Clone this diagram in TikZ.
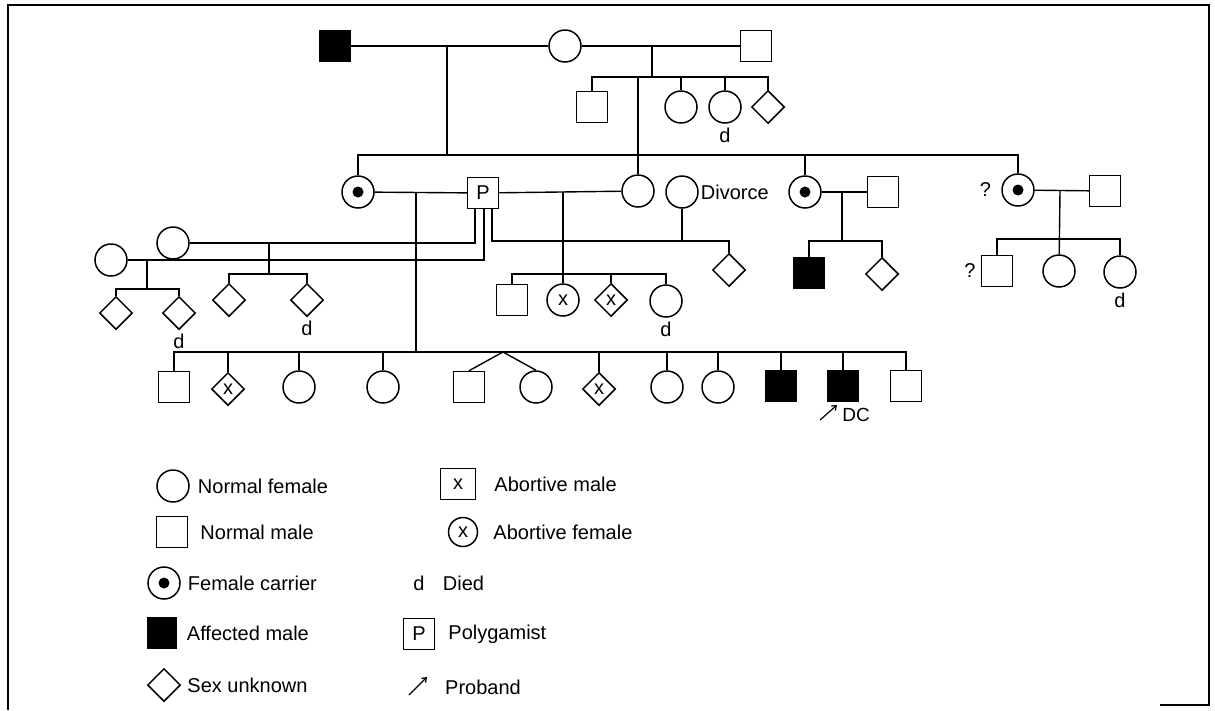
\documentclass[tikz,border=0pt]{standalone}
\usepackage{fontspec}
\setmainfont{Liberation Sans}
\usetikzlibrary{positioning,shapes.geometric,arrows.meta}

\begin{document}
\begin{tikzpicture}[
  x=1pt, y=-1pt,
  font=\fontsize{20}{22}\selectfont,
  every node/.style={inner sep=0pt},
  male/.style={draw, line width=1.5pt, minimum size=31pt},
  female/.style={draw, circle, line width=1.5pt, minimum size=32pt},
  unknown/.style={draw, diamond, aspect=1, line width=1.5pt, minimum size=33pt},
  affected/.style={male, fill=black},
  carrier/.style={female, path picture={\fill (path picture bounding box.center) circle (5.5pt);}},
  link/.style={line width=1.4pt},
  pointer/.style={line width=1.2pt, -{Straight Barb[length=4pt, width=6pt]}}
]
\useasboundingbox (0,0) rectangle (1215,710);
% frame
\draw[line width=1.6pt] (8,710) -- (8,5) -- (1209,5) -- (1209,705) -- (1160,705);

% first generation
\node[affected] (gf) at (335,46) {};
\node[female] (gm) at (565,46) {};
\node[male] (gm2) at (756,46) {};
\coordinate (m1) at (447,46);
\coordinate (m2) at (652,46);
\coordinate (sib1) at (652,77);
\coordinate (sib2) at (447,155);

\node[male] (u1) at (592,107) {};
\node[female] (u2) at (681,107) {};
\node[female] (u3) at (725,107) {};
\node[below=4pt of u3] {d};
\node[unknown] (u4) at (768,107) {};

\draw[link] (gf) -- (gm);
\draw[link] (gm) -- (gm2);
\draw[link] (m1) -- (sib2);
\draw[link] (m2) -- (sib1);
\draw[link] (u1.north) |- (sib1) -| (u4.north);
\draw[link] (u2.north) -- (u2.north |- sib1);
\draw[link] (u3.north) -- (u3.north |- sib1);

% second generation
\node[carrier] (c1) at (358,192) {};
\node[male] (p) at (483,193) {P};
\node[female] (w3) at (638,191) {};
\node[female] (dv) at (682,192) {};
\node[right=2pt of dv] {Divorce};
\node[carrier] (c2) at (805,192) {};
\node[male] (h2) at (883,192) {};
\node[carrier] (c3) at (1018,190) {};
\node[left=10pt of c3] {?};
\node[male] (h3) at (1105,191) {};
\node[female] (w1) at (173,243) {};
\node[female] (w2) at (111,260) {};

\draw[link] (c1.north) |- (sib2) -| (c3.north);
\draw[link] (c2.north) -- (c2.north |- sib2);
\draw[link] (w3.north) -- (w3.north |- sib1);

% matings of P
\coordinate (m3) at (416,192);
\coordinate (sib3) at (416,352);
\coordinate (m4) at (563,192);
\coordinate (sib4) at (563,274);
\coordinate (sib5) at (682,241);
\coordinate (m5) at (269,242);
\coordinate (sib6) at (269,274);
\coordinate (m6) at (147,259);
\coordinate (sib7) at (147,289);

\draw[link] (c1) -- (p);
\draw[link] (p) -- (w3);
\draw[link] ([xshift=-8pt]p.south) |- (w1);
\draw[link] ([xshift=1pt]p.south) |- (w2);
\draw[link] (m3) -- (sib3);

% third generation
\node[unknown] (k1) at (116,313) {};
\node[unknown] (k2) at (179,313) {};
\node[below=4pt of k2] {d};
\node[unknown] (k3) at (229,300) {};
\node[unknown] (k4) at (307,300) {};
\node[below=4pt of k4] {d};
\node[male] (k5) at (512,300) {};
\node[female] (k6) at (563,300) {x};
\node[unknown] (k7) at (611,300) {x};
\node[female] (k8) at (666,301) {};
\node[below=4pt of k8] {d};
\node[unknown] (k9) at (729,270) {};
\node[affected] (k10) at (809,273) {};
\node[unknown] (k11) at (882,274) {};
\node[male] (k12) at (997,271) {};
\node[left=5pt of k12] {?};
\node[female] (k13) at (1059,271) {};
\node[female] (k14) at (1120,272) {};
\node[below=4pt of k14] {d};

\draw[link] (m6) -- (sib7);
\draw[link] (k1.north) |- (sib7) -| (k2.north);
\draw[link] (m5) -- (sib6);
\draw[link] (k3.north) |- (sib6) -| (k4.north);
\draw[link] (m4) -- (k6);
\draw[link] (k5.north) |- (sib4) -| (k8.north);
\draw[link] (k7.north) -- (k7.north |- sib4);
\draw[link] ([xshift=9pt]p.south) |- (sib5) -| (k9.north);
\draw[link] (dv) -- (sib5);

\coordinate (m7) at (842,192);
\coordinate (sib8) at (842,241);
\draw[link] (c2) -- (h2);
\draw[link] (m7) -- (sib8);
\draw[link] (k10.north) |- (sib8) -| (k11.north);

\coordinate (m8) at (1060,191);
\coordinate (sib9) at (1060,239);
\draw[link] (c3) -- (h3);
\draw[link] (m8) -- (k13);
\draw[link] (k12.north) |- (sib9) -| (k14.north);

% children of the carrier and P
\node[male] (s1) at (174,387) {};
\node[unknown] (s2) at (228,389) {x};
\node[female] (s3) at (299,387) {};
\node[female] (s4) at (383,387) {};
\node[male] (s5) at (469,387) {};
\node[female] (s6) at (536,387) {};
\node[unknown] (s7) at (599,389) {x};
\node[female] (s8) at (667,387) {};
\node[female] (s9) at (718,387) {};
\node[affected] (s10) at (781,386) {};
\node[affected] (s11) at (843,386) {};
\node[male] (s12) at (906,386) {};
\coordinate (tw) at (503,352);
\coordinate (pb) at (820,420);
\node[font=\fontsize{19}{20}\selectfont] (dc) at (856,415) {DC};

\draw[link] (s1.north) |- (sib3) -| (s12.north);
\foreach \c in {s2,s3,s4,s7,s8,s9,s10,s11}
  \draw[link] (\c.north) -- (\c.north |- sib3);
\draw[link] (s5.north) -- (tw) -- (s6.north);
\draw[pointer] (pb) -- ++(17,-15);

% key
\node[female] (lg1) at (173,486) {};
\node[right=8pt of lg1] {Normal female};
\node[male] (lg2) at (172,532) {};
\node[right=12pt of lg2] {Normal male};
\node[carrier] (lg3) at (164,583) {};
\node[right=7pt of lg3] {Female carrier};
\node[affected, minimum width=28pt] (lg4) at (162,633) {};
\node[right=10pt of lg4] {Affected male};
\node[unknown] (lg5) at (164,685) {};
\node[right=6pt of lg5] {Sex unknown};

\node[male, minimum width=35pt] (lg6) at (458,484) {x};
\node[right=18pt of lg6] {Abortive male};
\node[female, minimum size=29pt] (lg7) at (463,532) {x};
\node[right=15pt of lg7] {Abortive female};
\node (lg8) at (419,583) {d};
\node[right=18pt of lg8] {Died};
\node[male] (lg9) at (419,634) {P};
\node[right=13pt of lg9] {Polygamist};
\coordinate (lg10) at (409,695);
\node[right=36pt of lg10, yshift=8pt] {Proband};
\draw[pointer] (lg10) -- ++(18,-18);
\end{tikzpicture}
\end{document}
